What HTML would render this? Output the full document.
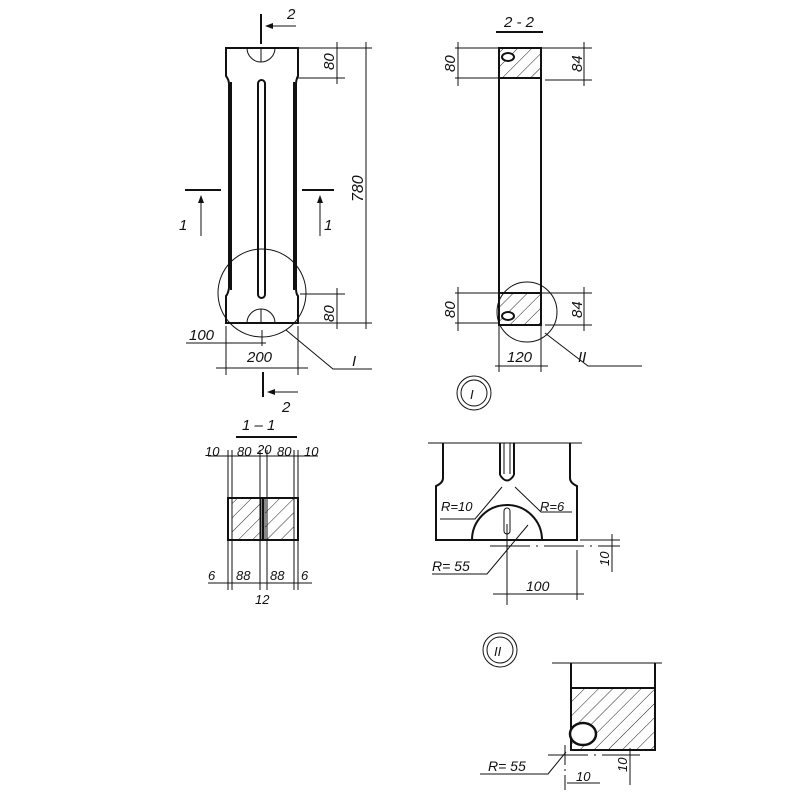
<!DOCTYPE html>
<html><head><meta charset="utf-8"><style>body{margin:0;background:#fff}svg{display:block}text{font-family:"Liberation Sans",sans-serif;font-style:italic;fill:#111}</style></head><body>
<svg width="800" height="800" viewBox="0 0 800 800" xmlns="http://www.w3.org/2000/svg">
<defs>
<pattern id="h" width="10" height="10" patternUnits="userSpaceOnUse" patternTransform="rotate(45)"><line x1="0" y1="0" x2="0" y2="10" stroke="#222" stroke-width="1"/></pattern>
<marker id="a" markerWidth="8" markerHeight="8" refX="7" refY="4" orient="auto"><path d="M0,1 L8,4 L0,7z" fill="#111"/></marker>
</defs>
<g fill="none" stroke="#111" stroke-width="1">
<path d="M226,48 H298 V76 Q296,80 296,84 V288 Q296,294 298,296 V323 H226 V296 Q228,294 229,288 V84 Q229,80 226,76 Z" stroke-width="2"/>
<line x1="231" y1="82" x2="231" y2="290" stroke-width="2"/>
<line x1="294" y1="82" x2="294" y2="290" stroke-width="2"/>
<rect x="258" y="80" width="7" height="218" rx="3.5" stroke-width="2"/>
<path d="M247,48 A14,14 0 0 0 275,48"/><line x1="261" y1="48" x2="261" y2="62"/>
<path d="M247,323 A14,14 0 0 1 275,323"/><line x1="261" y1="309" x2="261" y2="323"/>
<circle cx="262" cy="293" r="44"/>
<line x1="298" y1="48" x2="372" y2="48"/><line x1="296" y1="78" x2="345" y2="78"/>
<line x1="300" y1="294" x2="345" y2="294"/><line x1="298" y1="323" x2="372" y2="323"/>
<line x1="337" y1="42" x2="337" y2="84"/><line x1="337" y1="288" x2="337" y2="329"/>
<line x1="366" y1="42" x2="366" y2="329"/>
<line x1="261" y1="14" x2="261" y2="44" stroke-width="2"/>
<line x1="296" y1="26" x2="266" y2="26" marker-end="url(#a)"/>
<line x1="263" y1="372" x2="263" y2="397" stroke-width="2"/>
<line x1="298" y1="392" x2="268" y2="392" marker-end="url(#a)"/>
<line x1="185" y1="190" x2="221" y2="190" stroke-width="2"/>
<line x1="201" y1="236" x2="201" y2="196" marker-end="url(#a)"/>
<line x1="302" y1="190" x2="334" y2="190" stroke-width="2"/>
<line x1="320" y1="236" x2="320" y2="196" marker-end="url(#a)"/>
<line x1="226" y1="326" x2="226" y2="375"/><line x1="298" y1="326" x2="298" y2="375"/>
<line x1="262" y1="330" x2="262" y2="346"/>
<line x1="186" y1="343" x2="266" y2="343"/>
<line x1="216" y1="368" x2="308" y2="368"/>
<polyline points="286,330 333,369 372,369"/>
<line x1="496" y1="32" x2="543" y2="32" stroke-width="2"/>
<rect x="499" y="48" width="42" height="277" stroke-width="2"/>
<rect x="499" y="48" width="42" height="30" fill="url(#h)" stroke-width="2"/>
<rect x="499" y="293" width="42" height="32" fill="url(#h)" stroke-width="2"/>
<ellipse cx="508" cy="57" rx="6" ry="4" fill="#fff" stroke-width="2"/>
<ellipse cx="508" cy="316" rx="6" ry="4" fill="#fff" stroke-width="2"/>
<circle cx="527" cy="312" r="30"/>
<polyline points="545,333 588,366 642,366"/>
<line x1="455" y1="48" x2="499" y2="48"/><line x1="455" y1="78" x2="499" y2="78"/>
<line x1="541" y1="48" x2="592" y2="48"/><line x1="545" y1="80" x2="592" y2="80"/>
<line x1="458" y1="42" x2="458" y2="86"/><line x1="584" y1="42" x2="584" y2="86"/>
<line x1="455" y1="293" x2="499" y2="293"/><line x1="455" y1="323" x2="499" y2="323"/>
<line x1="541" y1="293" x2="592" y2="293"/><line x1="545" y1="325" x2="592" y2="325"/>
<line x1="458" y1="287" x2="458" y2="331"/><line x1="584" y1="287" x2="584" y2="331"/>
<line x1="499" y1="326" x2="499" y2="372"/><line x1="541" y1="326" x2="541" y2="372"/>
<line x1="495" y1="366" x2="548" y2="366"/>
<circle cx="474" cy="393" r="17"/><circle cx="474" cy="393" r="13"/>
<line x1="236" y1="437" x2="297" y2="437" stroke-width="2"/>
<rect x="228" y="498" width="70" height="42" stroke-width="2"/>
<rect x="232" y="498" width="29" height="42" fill="url(#h)"/>
<rect x="265" y="498" width="29" height="42" fill="url(#h)"/>
<line x1="263" y1="498" x2="263" y2="540" stroke-width="2"/>
<line x1="208" y1="456" x2="318" y2="456"/>
<line x1="208" y1="583" x2="312" y2="583"/>
<line x1="228" y1="450" x2="228" y2="590"/><line x1="232" y1="450" x2="232" y2="590"/>
<line x1="260" y1="450" x2="260" y2="590"/><line x1="267" y1="450" x2="267" y2="590"/>
<line x1="294" y1="450" x2="294" y2="590"/><line x1="298" y1="450" x2="298" y2="590"/>
<line x1="428" y1="443" x2="582" y2="443"/>
<path d="M443,443 V478 Q443,483 436,486 V540 H577 V486 Q570,483 570,478 V443" stroke-width="2"/>
<line x1="500" y1="443" x2="500" y2="475" stroke-width="2"/><line x1="514" y1="443" x2="514" y2="475" stroke-width="2"/>
<line x1="504" y1="443" x2="504" y2="474"/><line x1="510" y1="443" x2="510" y2="474"/>
<path d="M500,475 Q507,486 514,475" stroke-width="2"/>
<path d="M472,540 A35,35 0 0 1 542,540" stroke-width="2"/>
<rect x="504" y="508" width="6" height="26" rx="3"/>
<polyline points="440,519 475,519 502,487"/>
<polyline points="572,512 541,512 515,487"/>
<polyline points="432,574 487,574 528,525"/>
<line x1="490" y1="546" x2="620" y2="546" stroke-dasharray="40,6,2,6"/>
<line x1="507" y1="524" x2="507" y2="605"/>
<line x1="577" y1="550" x2="577" y2="600"/>
<line x1="580" y1="540" x2="620" y2="540"/>
<line x1="612" y1="534" x2="612" y2="572"/>
<line x1="493" y1="594" x2="584" y2="594"/>
<circle cx="500" cy="650" r="17"/><circle cx="500" cy="650" r="13"/>
<line x1="552" y1="663" x2="662" y2="663"/>
<line x1="571" y1="663" x2="571" y2="750" stroke-width="2"/>
<line x1="655" y1="663" x2="655" y2="750" stroke-width="2"/>
<rect x="571" y="688" width="84" height="62" fill="url(#h)" stroke-width="2"/>
<ellipse cx="583" cy="734" rx="13" ry="11" fill="#fff" stroke-width="2.5"/>
<polyline points="480,774 548,774 566,752"/>
<line x1="548" y1="755" x2="640" y2="755" stroke-dasharray="40,6,2,6"/>
<line x1="565" y1="745" x2="565" y2="790" stroke-dasharray="20,4,2,4"/>
<line x1="567" y1="783" x2="600" y2="783"/>
<line x1="630" y1="748" x2="630" y2="785"/>
</g>
<g font-size="15">
<text x="287" y="19">2</text><text x="282" y="412">2</text>
<text x="179" y="230">1</text><text x="324" y="230">1</text>
<text x="189" y="340">100</text><text x="247" y="362">200</text>
<text x="352" y="366" font-family="Liberation Serif">I</text>
<text transform="translate(334,70) rotate(-90)">80</text>
<text transform="translate(334,322) rotate(-90)">80</text>
<text transform="translate(363,202) rotate(-90)" font-size="16">780</text>
<text x="504" y="27">2 - 2</text>
<text transform="translate(455,72) rotate(-90)">80</text>
<text transform="translate(455,318) rotate(-90)">80</text>
<text transform="translate(582,72) rotate(-90)">84</text>
<text transform="translate(582,318) rotate(-90)">84</text>
<text x="507" y="362">120</text>
<text x="578" y="362" font-family="Liberation Serif">II</text>
<text x="470" y="399" font-size="13">I</text>
<text x="242" y="430">1 – 1</text>
<text x="205" y="456" font-size="13">10</text><text x="237" y="456" font-size="13">80</text><text x="257" y="454" font-size="13">20</text><text x="277" y="456" font-size="13">80</text><text x="304" y="456" font-size="13">10</text>
<text x="208" y="580" font-size="13">6</text><text x="236" y="580" font-size="13">88</text><text x="270" y="580" font-size="13">88</text><text x="301" y="580" font-size="13">6</text><text x="255" y="604" font-size="13">12</text>
<text x="441" y="511" font-size="13">R=10</text><text x="540" y="511" font-size="13">R=6</text>
<text x="432" y="571" font-size="14">R= 55</text>
<text x="526" y="591" font-size="14">100</text>
<text transform="translate(609,566) rotate(-90)" font-size="13">10</text>
<text x="494" y="656" font-size="13">II</text>
<text x="488" y="771" font-size="14">R= 55</text>
<text x="576" y="781" font-size="13">10</text>
<text transform="translate(627,772) rotate(-90)" font-size="13">10</text>
</g>
</svg>
</body></html>
